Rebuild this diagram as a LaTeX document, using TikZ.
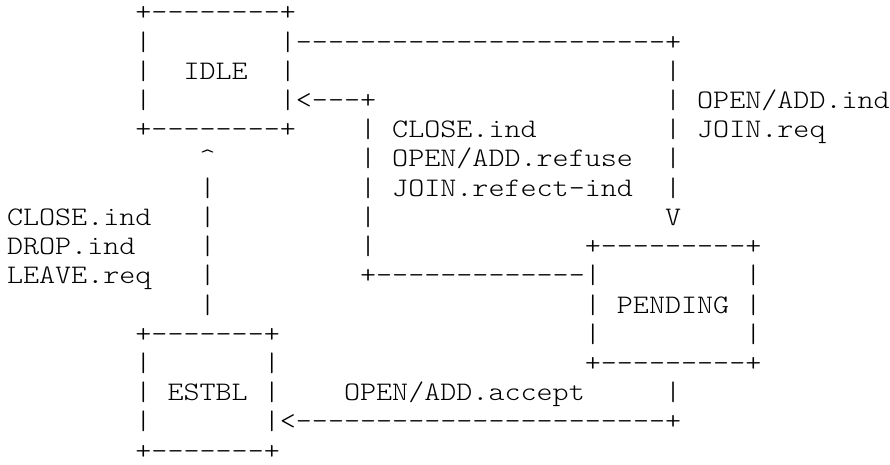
\documentclass[tikz,border=0pt]{standalone}
\usepackage{fontspec}
\setmonofont{Latin Modern Mono Light}[FakeStretch=1.143]
\begin{document}
\begin{tikzpicture}[x=16.05pt, y=-29.2pt,
  ascii/.style={anchor=base west, inner sep=0pt, font=\fontsize{26.75}{30}\selectfont\ttfamily}]
\useasboundingbox (-6.8pt,21pt) rectangle (883.2pt,-444pt);
\node[ascii] (idletop) at (8,0) {+--------+};
\node[ascii] (idleleft1) at (8,1) {|};
\node[ascii] (idleout) at (17,1) {|-----------------------+};
\node[ascii] (idleleft2) at (8,2) {|};
\node[ascii] (idle) at (11,2) {IDLE};
\node[ascii] (idleright2) at (17,2) {|};
\node[ascii] (openline2) at (41,2) {|};
\node[ascii] (idleleft3) at (8,3) {|};
\node[ascii] (idlein) at (17,3) {|<---+};
\node[ascii] (openline3) at (41,3) {|};
\node[ascii] (openind) at (43,3) {OPEN/ADD.ind};
\node[ascii] (idlebot) at (8,4) {+--------+};
\node[ascii] (closeline4) at (22,4) {|};
\node[ascii] (closeind) at (24,4) {CLOSE.ind};
\node[ascii] (openline4) at (41,4) {|};
\node[ascii] (joinreq) at (43,4) {JOIN.req};
\node[ascii] (estblup) at (12,5) {\textasciicircum};
\node[ascii] (closeline5) at (22,5) {|};
\node[ascii] (openrefuse) at (24,5) {OPEN/ADD.refuse};
\node[ascii] (openline5) at (41,5) {|};
\node[ascii] (estblline6) at (12,6) {|};
\node[ascii] (closeline6) at (22,6) {|};
\node[ascii] (joinrefect) at (24,6) {JOIN.refect-ind};
\node[ascii] (openline6) at (41,6) {|};
\node[ascii] (leftclose) at (0,7) {CLOSE.ind};
\node[ascii] (estblline7) at (12,7) {|};
\node[ascii] (closeline7) at (22,7) {|};
\node[ascii] (opendown) at (41,7) {V};
\node[ascii] (dropind) at (0,8) {DROP.ind};
\node[ascii] (estblline8) at (12,8) {|};
\node[ascii] (closeline8) at (22,8) {|};
\node[ascii] (pendtop) at (36,8) {+---------+};
\node[ascii] (leavereq) at (0,9) {LEAVE.req};
\node[ascii] (estblline9) at (12,9) {|};
\node[ascii] (pendout) at (22,9) {+-------------|};
\node[ascii] (pendright9) at (46,9) {|};
\node[ascii] (estblline10) at (12,10) {|};
\node[ascii] (pendleft10) at (36,10) {|};
\node[ascii] (pending) at (38,10) {PENDING};
\node[ascii] (pendright10) at (46,10) {|};
\node[ascii] (estbltop) at (8,11) {+-------+};
\node[ascii] (pendleft11) at (36,11) {|};
\node[ascii] (pendright11) at (46,11) {|};
\node[ascii] (estblleft12) at (8,12) {|};
\node[ascii] (estblright12) at (16,12) {|};
\node[ascii] (pendbot) at (36,12) {+---------+};
\node[ascii] (estblleft13) at (8,13) {|};
\node[ascii] (estbl) at (10,13) {ESTBL};
\node[ascii] (estblright13) at (16,13) {|};
\node[ascii] (openaccept) at (21,13) {OPEN/ADD.accept};
\node[ascii] (acceptline13) at (41,13) {|};
\node[ascii] (estblleft14) at (8,14) {|};
\node[ascii] (estblin) at (16,14) {|<-----------------------+};
\node[ascii] (estblbot) at (8,15) {+-------+};
\end{tikzpicture}
\end{document}
